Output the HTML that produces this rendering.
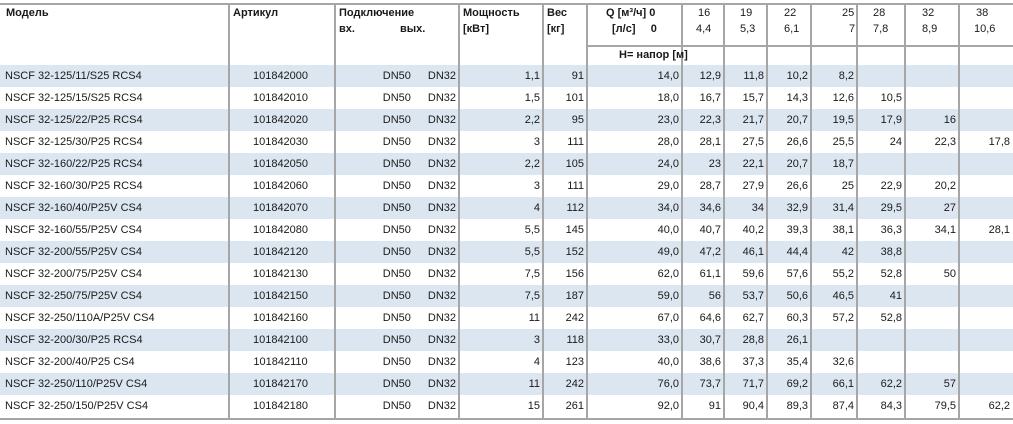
<!DOCTYPE html>
<html><head><meta charset="utf-8"><style>
body{margin:0;width:1013px;height:424px;background:#fff;position:relative;overflow:hidden;font-family:"Liberation Sans","DejaVu Sans",sans-serif;font-size:11px;color:#1a1a1a}
.a{position:absolute;white-space:nowrap}
.b{font-weight:bold}
table{position:absolute;left:0;top:65px;border-collapse:collapse;table-layout:fixed;width:1013px}
td{height:22px;padding:0 3px 0 0;text-align:right;white-space:nowrap;overflow:hidden;line-height:22px}
td:first-child{text-align:left;padding-left:5px}
td:nth-child(2){text-align:center}
tr:nth-child(odd){background:#dce6f0}
.v{position:absolute;top:3px;width:2px;height:416px;background:#a6a6a6}
.h{position:absolute;height:2px;background:#a6a6a6}
</style></head><body>
<table>
<colgroup><col style="width:229px"><col style="width:106px"><col style="width:124px"><col style="width:84px"><col style="width:44px"><col style="width:95px"><col style="width:42px"><col style="width:43px"><col style="width:44px"><col style="width:46px"><col style="width:48px"><col style="width:54px"><col style="width:54px"></colgroup>
<tr><td>NSCF 32-125/11/S25 RCS4</td><td>101842000</td><td><span style="margin-right:17px">DN50</span>DN32</td><td>1,1</td><td>91</td><td>14,0</td><td>12,9</td><td>11,8</td><td>10,2</td><td>8,2</td><td></td><td></td><td></td></tr>
<tr><td>NSCF 32-125/15/S25 RCS4</td><td>101842010</td><td><span style="margin-right:17px">DN50</span>DN32</td><td>1,5</td><td>101</td><td>18,0</td><td>16,7</td><td>15,7</td><td>14,3</td><td>12,6</td><td>10,5</td><td></td><td></td></tr>
<tr><td>NSCF 32-125/22/P25 RCS4</td><td>101842020</td><td><span style="margin-right:17px">DN50</span>DN32</td><td>2,2</td><td>95</td><td>23,0</td><td>22,3</td><td>21,7</td><td>20,7</td><td>19,5</td><td>17,9</td><td>16</td><td></td></tr>
<tr><td>NSCF 32-125/30/P25 RCS4</td><td>101842030</td><td><span style="margin-right:17px">DN50</span>DN32</td><td>3</td><td>111</td><td>28,0</td><td>28,1</td><td>27,5</td><td>26,6</td><td>25,5</td><td>24</td><td>22,3</td><td>17,8</td></tr>
<tr><td>NSCF 32-160/22/P25 RCS4</td><td>101842050</td><td><span style="margin-right:17px">DN50</span>DN32</td><td>2,2</td><td>105</td><td>24,0</td><td>23</td><td>22,1</td><td>20,7</td><td>18,7</td><td></td><td></td><td></td></tr>
<tr><td>NSCF 32-160/30/P25 RCS4</td><td>101842060</td><td><span style="margin-right:17px">DN50</span>DN32</td><td>3</td><td>111</td><td>29,0</td><td>28,7</td><td>27,9</td><td>26,6</td><td>25</td><td>22,9</td><td>20,2</td><td></td></tr>
<tr><td>NSCF 32-160/40/P25V CS4</td><td>101842070</td><td><span style="margin-right:17px">DN50</span>DN32</td><td>4</td><td>112</td><td>34,0</td><td>34,6</td><td>34</td><td>32,9</td><td>31,4</td><td>29,5</td><td>27</td><td></td></tr>
<tr><td>NSCF 32-160/55/P25V CS4</td><td>101842080</td><td><span style="margin-right:17px">DN50</span>DN32</td><td>5,5</td><td>145</td><td>40,0</td><td>40,7</td><td>40,2</td><td>39,3</td><td>38,1</td><td>36,3</td><td>34,1</td><td>28,1</td></tr>
<tr><td>NSCF 32-200/55/P25V CS4</td><td>101842120</td><td><span style="margin-right:17px">DN50</span>DN32</td><td>5,5</td><td>152</td><td>49,0</td><td>47,2</td><td>46,1</td><td>44,4</td><td>42</td><td>38,8</td><td></td><td></td></tr>
<tr><td>NSCF 32-200/75/P25V CS4</td><td>101842130</td><td><span style="margin-right:17px">DN50</span>DN32</td><td>7,5</td><td>156</td><td>62,0</td><td>61,1</td><td>59,6</td><td>57,6</td><td>55,2</td><td>52,8</td><td>50</td><td></td></tr>
<tr><td>NSCF 32-250/75/P25V CS4</td><td>101842150</td><td><span style="margin-right:17px">DN50</span>DN32</td><td>7,5</td><td>187</td><td>59,0</td><td>56</td><td>53,7</td><td>50,6</td><td>46,5</td><td>41</td><td></td><td></td></tr>
<tr><td>NSCF 32-250/110A/P25V CS4</td><td>101842160</td><td><span style="margin-right:17px">DN50</span>DN32</td><td>11</td><td>242</td><td>67,0</td><td>64,6</td><td>62,7</td><td>60,3</td><td>57,2</td><td>52,8</td><td></td><td></td></tr>
<tr><td>NSCF 32-200/30/P25 RCS4</td><td>101842100</td><td><span style="margin-right:17px">DN50</span>DN32</td><td>3</td><td>118</td><td>33,0</td><td>30,7</td><td>28,8</td><td>26,1</td><td></td><td></td><td></td><td></td></tr>
<tr><td>NSCF 32-200/40/P25 CS4</td><td>101842110</td><td><span style="margin-right:17px">DN50</span>DN32</td><td>4</td><td>123</td><td>40,0</td><td>38,6</td><td>37,3</td><td>35,4</td><td>32,6</td><td></td><td></td><td></td></tr>
<tr><td>NSCF 32-250/110/P25V CS4</td><td>101842170</td><td><span style="margin-right:17px">DN50</span>DN32</td><td>11</td><td>242</td><td>76,0</td><td>73,7</td><td>71,7</td><td>69,2</td><td>66,1</td><td>62,2</td><td>57</td><td></td></tr>
<tr><td>NSCF 32-250/150/P25V CS4</td><td>101842180</td><td><span style="margin-right:17px">DN50</span>DN32</td><td>15</td><td>261</td><td>92,0</td><td>91</td><td>90,4</td><td>89,3</td><td>87,4</td><td>84,3</td><td>79,5</td><td>62,2</td></tr>
</table>

<div class="h" style="left:0;top:3px;width:1013px"></div>
<div class="h" style="left:0;top:418px;width:1013px"></div>
<div class="h" style="left:587px;top:45px;width:426px"></div>
<div class="v" style="left:228px"></div>
<div class="v" style="left:334px"></div>
<div class="v" style="left:458px"></div>
<div class="v" style="left:542px"></div>
<div class="v" style="left:586px"></div>
<div class="v" style="left:681px"></div>
<div class="v" style="left:723px"></div>
<div class="v" style="left:766px"></div>
<div class="v" style="left:810px"></div>
<div class="v" style="left:856px"></div>
<div class="v" style="left:904px"></div>
<div class="v" style="left:958px"></div>

<div class="a b" style="left:6px;top:7px">Модель</div>
<div class="a b" style="left:233px;top:7px">Артикул</div>
<div class="a b" style="left:339px;top:7px">Подключение</div>
<div class="a b" style="left:339px;top:23px">вх.</div>
<div class="a b" style="left:400px;top:23px">вых.</div>
<div class="a b" style="left:463px;top:7px">Мощность</div>
<div class="a b" style="left:463px;top:23px">[кВт]</div>
<div class="a b" style="left:547px;top:7px">Вес</div>
<div class="a b" style="left:547px;top:23px">[кг]</div>
<div class="a b" style="left:606px;top:7px">Q [м³/ч] 0</div>
<div class="a b" style="left:612px;top:23px">[л/с]&nbsp;&nbsp;&nbsp;&nbsp; 0</div>
<div class="a b" style="left:619px;top:49px">H= напор [м]</div>
<div class="a" style="left:698px;top:7px">16</div><div class="a" style="left:696px;top:23px">4,4</div>
<div class="a" style="left:740px;top:7px">19</div><div class="a" style="left:740px;top:23px">5,3</div>
<div class="a" style="left:784px;top:7px">22</div><div class="a" style="left:784px;top:23px">6,1</div>
<div class="a" style="left:842px;top:7px">25</div><div class="a" style="left:849px;top:23px">7</div>
<div class="a" style="left:873px;top:7px">28</div><div class="a" style="left:873px;top:23px">7,8</div>
<div class="a" style="left:922px;top:7px">32</div><div class="a" style="left:922px;top:23px">8,9</div>
<div class="a" style="left:976px;top:7px">38</div><div class="a" style="left:974px;top:23px">10,6</div>
</body></html>
